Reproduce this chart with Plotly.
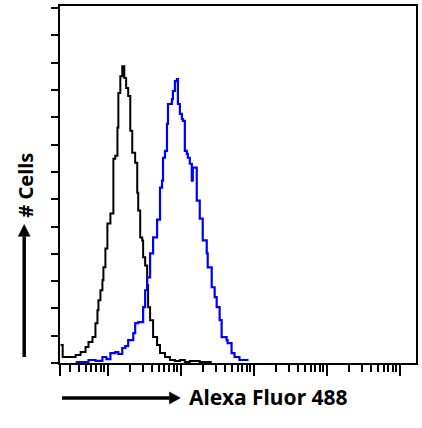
import plotly.graph_objects as go

# ---- data ----
# Isotype control (black): fluorescence intensity vs. cell count
black_x = [2.27, 2.42, 2.92, 3.64, 4.26, 4.98, 5.46, 6.19, 6.80, 7.24, 7.47, 7.96, 8.47, 8.74,
           9.31, 9.91, 10.9, 11.97, 12.7, 13.6, 14.0, 14.9, 15.85, 16.9, 17.9, 19.1, 20.4,
           21.7, 23.8, 25.4, 26.2, 27.9, 29.7, 30.6, 32.6, 34.7, 35.8, 38.1, 41.9, 47.5,
           52.1, 61.0, 71.3, 83.4, 97.5, 114, 133, 182, 250, 258]
black_y = [13.1, 4.4, 4.4, 5.8, 8.0, 11.7, 15.3, 19.0, 29.2, 38.7, 46.0, 53.3, 60.6, 70.1,
           83.9, 102.2, 109.5, 149.6, 151.8, 172.3, 197.8, 210.2, 217.5, 208.8, 201.5, 195.6, 170.1,
           154.0, 146.7, 124.8, 111.7, 92.0, 89.8, 77.4, 71.5, 56.9, 40.9, 31.4, 19.0, 13.1,
           7.3, 4.4, 2.2, 1.5, 2.2, 0.7, 1.5, 0.7, 0.7, 0.0]

# Antibody stained (blue)
blue_x = [3.64, 5.46, 6.80, 8.47, 9.6, 10.9, 12.7, 14.0, 15.85, 17.4, 19.1, 22.4, 23.8, 26.2,
          27.9, 30.6, 32.6, 34.7, 38.1, 41.9, 47.5, 52.1, 55.5, 57.3, 61.0, 64.9, 67.0, 75.9,
          78.3, 83.4, 88.8, 91.6, 97.5, 103.8, 107.2, 114, 121.3, 125.3, 133.4, 142, 146.5,
          161, 166, 182.5, 200.4, 227.4, 234.6, 266, 292, 311, 341.6, 363.7, 425.6, 438.7,
          497.5, 546, 638, 820]
blue_y = [0.7, 2.2, 1.5, 4.4, 2.9, 7.3, 8.0, 6.6, 11.0, 12.4, 16.8, 21.9, 29.2, 29.9,
          29.9, 40.9, 53.3, 62.8, 80.3, 92.0, 105.1, 128.5, 133.6, 150.4, 155.5, 175.2, 189.8, 193.4,
          199.3, 206.6, 208.0, 189.8, 182.5, 178.8, 177.4, 155.5, 153.3, 150.4, 146.0, 133.6, 143.1,
          143.1, 119.0, 105.8, 89.8, 80.3, 70.1, 55.5, 48.2, 40.9, 31.4, 19.0, 16.8, 14.6,
          7.3, 4.4, 2.2, 1.5]

x_major_ticks = [2.226, 10, 100, 1000, 10000, 100000]
x_minor_ticks = [m * d for d in (1, 10, 100, 1000, 10000) for m in range(2, 10)
                 if 2.23 < m * d < 160000]
y_ticks = list(range(0, 261, 20))

x_title = "Alexa Fluor 488"
y_title = "# Cells"

# ---- figure ----
fig = go.Figure()
fig.add_trace(go.Scatter(x=black_x, y=black_y, mode="lines", line_shape="hv",
                         line=dict(color="black", width=2), showlegend=False))
fig.add_trace(go.Scatter(x=blue_x, y=blue_y, mode="lines", line_shape="hv",
                         line=dict(color="#0000ff", width=2.2), showlegend=False))

L, R, T, B = 60, 4, 5, 65
W, H = 422, 428
pw, ph = W - L - R, H - T - B

def px2paper(px, py):
    return (px - L) / pw, (H - B - py) / ph

fig.update_layout(
    width=W, height=H,
    margin=dict(l=L, r=R, t=T, b=B, pad=0),
    paper_bgcolor="white", plot_bgcolor="white",
    xaxis=dict(type="log", range=[0.347, 5.223], showgrid=False, zeroline=False,
               showline=True, linecolor="black", linewidth=2, mirror=True,
               tickmode="array", tickvals=x_major_ticks, ticktext=[""] * len(x_major_ticks),
               ticks="outside", ticklen=11, tickwidth=2, tickcolor="black",
               minor=dict(tickmode="array", tickvals=x_minor_ticks, ticks="outside",
                          ticklen=7, tickwidth=1.5, tickcolor="black", showgrid=False)),
    yaxis=dict(range=[0, 261.6], showgrid=False, zeroline=False,
               showline=True, linecolor="black", linewidth=2, mirror=True,
               tickmode="array", tickvals=y_ticks, ticktext=[""] * len(y_ticks),
               ticks="outside", ticklen=7, tickwidth=2, tickcolor="black"),
    font=dict(family="Noto Sans", color="black"),
)

# axis labels
lx, ly = px2paper(188, 397)
fig.add_annotation(xref="paper", yref="paper", x=lx, y=ly, text="<b>%s</b>" % x_title,
                   showarrow=False, xanchor="left", yanchor="middle",
                   font=dict(family="Noto Sans", size=21, color="black"))
cx, cy = px2paper(25, 185)
fig.add_annotation(xref="paper", yref="paper", x=cx, y=cy, text="<b>%s</b>" % y_title,
                   showarrow=False, textangle=-90, xanchor="center", yanchor="middle",
                   font=dict(family="Noto Sans", size=20, color="black"))

# arrows
x0, y0 = px2paper(62, 398)
x1, y1 = px2paper(170, 398)
x2, _ = px2paper(181, 398)
_, yh0 = px2paper(0, 392)
_, yh1 = px2paper(0, 404)
fig.add_shape(type="line", xref="paper", yref="paper", x0=x0, y0=y0, x1=x1, y1=y1,
              line=dict(color="black", width=3.5))
fig.add_shape(type="path", xref="paper", yref="paper",
              path=f"M {x1} {yh0} L {x2} {y0} L {x1} {yh1} Z",
              fillcolor="black", line=dict(color="black", width=0.5))

vx, vy0 = px2paper(24, 357)
_, vy1 = px2paper(24, 236)
_, vy2 = px2paper(24, 224)
vxl, _ = px2paper(18, 0)
vxr, _ = px2paper(30, 0)
fig.add_shape(type="line", xref="paper", yref="paper", x0=vx, y0=vy0, x1=vx, y1=vy1,
              line=dict(color="black", width=3.5))
fig.add_shape(type="path", xref="paper", yref="paper",
              path=f"M {vxl} {vy1} L {vx} {vy2} L {vxr} {vy1} Z",
              fillcolor="black", line=dict(color="black", width=0.5))

fig.write_html("out.html", config={"displayModeBar": False},
               post_script="document.body.style.margin='0';")
